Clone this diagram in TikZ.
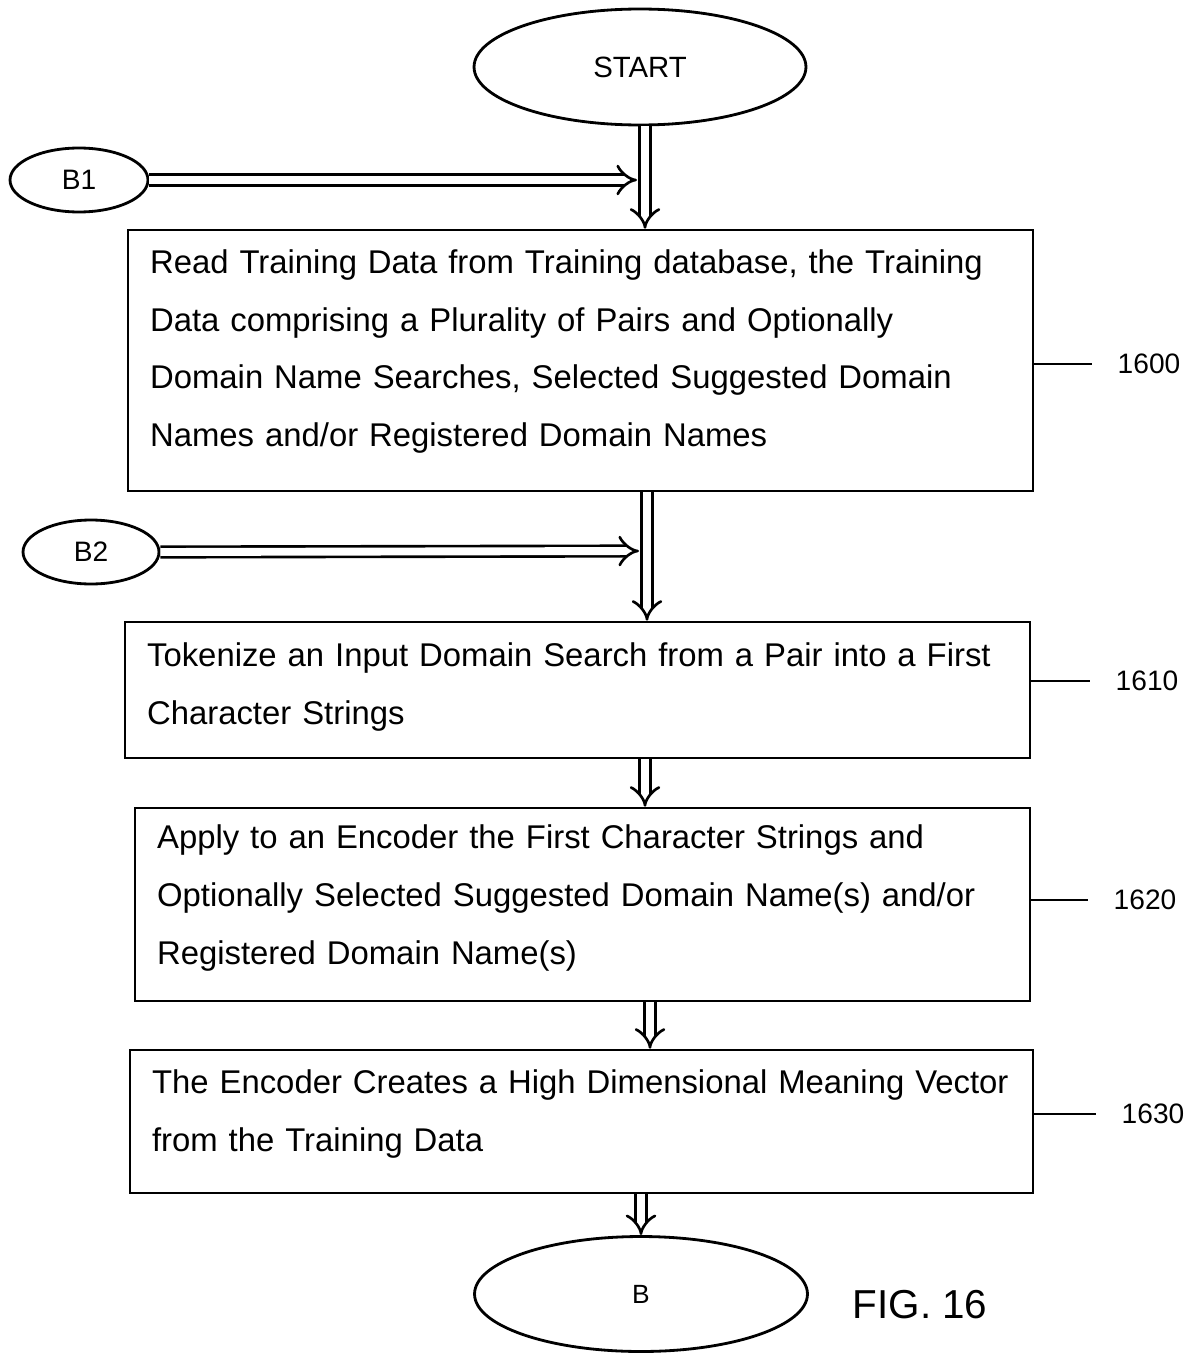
\documentclass[tikz,border=0pt]{standalone}
\usepackage{fontspec}
\setmainfont{Liberation Sans}
\usetikzlibrary{shapes.geometric}
\usetikzlibrary{arrows.meta}

\begin{document}
\begin{tikzpicture}[x=0.02cm,y=-0.02cm]
 \newcommand{\labFont}{\fontsize{16}{18}\selectfont}
 \newcommand{\lift}[1]{\par\vspace{#1}\hrule height 0pt width 0pt}
	\tikzset{terminal/.style = {ellipse,draw,line width=1.6pt,inner sep=0pt}}
	\tikzset{stepbox/.style = {rectangle,draw,line width=1.5pt,inner xsep=0.44cm,inner ysep=0.05cm,align=left,font=\fontsize{18.7}{33}\selectfont}}
	\tikzstyle{flow} = [double,double distance=4.5pt,line width=1.5pt,-{Implies[scale=1.2]}]
	\tikzstyle{lead} = [line width=1pt,shorten >=0.5cm]
	\useasboundingbox (0,0) rectangle (1192,1359);
	%terminals
	\node[terminal,minimum width=6.64cm,minimum height=2.32cm,font=\fontsize{16.7}{18}\selectfont] (start) at (640,67) {START};
	\node[terminal,minimum width=2.76cm,minimum height=1.28cm,font=\fontsize{16}{18}\selectfont] (b1) at (79,180) {B1};
	\node[terminal,minimum width=2.72cm,minimum height=1.28cm,font=\fontsize{16}{18}\selectfont] (b2) at (91,552) {B2};
	\node[terminal,minimum width=6.66cm,minimum height=2.3cm,font=\fontsize{15}{17}\selectfont] (stop) at (641,1294) {B};
	\coordinate (j1) at (637,180);
	\coordinate (j2) at (639,551);
	%steps
	\node[stepbox,text width=17.22cm,minimum height=5.22cm] (b1600) at (580.5,360.5) {Read Training Data from Training database, the Training\\Data comprising a Plurality of Pairs and Optionally\\Domain Name Searches, Selected Suggested Domain\\Names and/or Registered Domain Names\lift{0.36cm}};
	\node[stepbox,text width=17.22cm,minimum height=2.72cm] (b1610) at (577.5,690) {Tokenize an Input Domain Search from a Pair into a First\\Character Strings\lift{0.12cm}};
	\node[stepbox,text width=17.02cm,minimum height=3.86cm] (b1620) at (582.5,904.5) {Apply to an Encoder the First Character Strings and\\Optionally Selected Suggested Domain Name(s) and/or\\Registered Domain Name(s)\lift{0.26cm}};
	\node[stepbox,text width=17.18cm,minimum height=2.86cm] (b1630) at (581.5,1121.5) {The Encoder Creates a High Dimensional Meaning Vector\\from the Training Data\lift{0.3cm}};
	%reference numerals
	\node[font=\labFont,inner sep=0pt] (n1600) at (1149,364) {1600};
	\node[font=\labFont,inner sep=0pt] (n1610) at (1147,681) {1610};
	\node[font=\labFont,inner sep=0pt] (n1620) at (1145,900) {1620};
	\node[font=\labFont,inner sep=0pt] (n1630) at (1153,1114) {1630};
	\node[font=\fontsize{23}{26}\selectfont] (fig) at (920,1305) {FIG. 16};
	\draw[lead] (b1600.east |- n1600) -- (n1600);
	\draw[lead] (b1610.east |- n1610) -- (n1610);
	\draw[lead] (b1620.east |- n1620) -- (n1620);
	\draw[lead] (b1630.east |- n1630) -- (n1630);
	%flow
	\draw[flow] ([xshift=0.1cm]start.south) -- ([xshift=0.1cm]start.south |- b1600.north);
	\draw[flow] (b1.east) -- (j1);
	\draw[flow] ([xshift=0.16cm]b1600.south -| j2) -- ([xshift=0.16cm]b1610.north -| j2);
	\draw[flow] (b2.east) -- (j2);
	\draw[flow] ([xshift=0.12cm]b1610.south -| j2) -- ([xshift=0.12cm]b1620.north -| j2);
	\draw[flow] ([xshift=0.22cm]b1620.south -| j2) -- ([xshift=0.22cm]b1630.north -| j2);
	\draw[flow] (b1630.south -| stop) -- (stop.north);
\end{tikzpicture}
\end{document}
